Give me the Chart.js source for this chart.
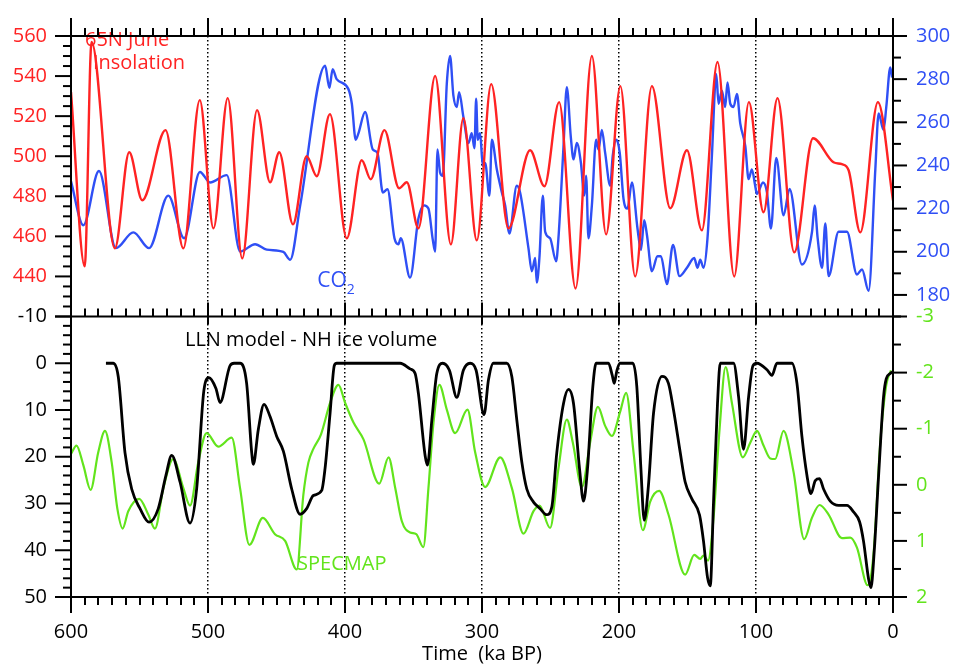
<!DOCTYPE html>
<html><head><meta charset="utf-8">
<script src="https://cdn.jsdelivr.net/npm/chart.js@4.4.1/dist/chart.umd.min.js"></script>
<style>html,body{margin:0;padding:0;background:#fff}#wrap{position:relative;width:955px;height:666px}</style>
</head><body><div id="wrap"><canvas id="c" width="955" height="666"></canvas></div>
<script>
// ---- data (time in ka BP) ----
const insT = [600,590,585,568,557.5,548,531,518,506,496,485.6,475,464.2,454.7,448,438,428,420.6,411,398.7,387.8,381.2,371.2,360.5,354.9,346.4,334.2,322.7,313.6,303.8,293.3,280.7,264.9,254.4,243.7,231.7,219.8,209.4,199,188.2,176,162.6,150.4,139.5,128.1,115.9,105.2,94.5,84.3,72.1,58.4,43.4,37.3,32.4,23.9,11,0];
const insV = [532,445,557,454,502,478,513,454,528,464,529,449,523,487,502,466,500,490,521,459,498,488.5,513,484,487,464,540,456,519,458,536,464,503,485,527,434,550,461,535,440,535,474,503,463,547,440,527,472,529,452,509,497,496,493,462,527,478];

const co2T = [600,591,579.6,567.2,554.5,543,529,517.4,505.9,498.5,486.3,476.6,465.6,457.1,445,440,432.7,414.5,411.4,409,406.1,397.6,395,392.2,390.2,385.3,379.7,376.3,372.4,369,363.9,361,359.3,352.5,346.4,342.3,339.1,335.9,334.2,332.5,330.6,328.6,325.7,323.3,320.9,318.4,316.7,313.6,309.9,307.5,305.5,304.3,303.1,301.4,299.4,297.7,294.6,292.8,289.2,285.5,283.1,280,274.6,272.2,266.1,263.6,261.2,260,258.1,255.6,253.9,250.3,245.9,244.2,240.5,238.1,235.2,233.2,230.8,227.8,225.4,224,222.3,219.8,216.7,215,212.5,210.1,206.4,204.6,202,199.5,196.7,193.8,190.6,186.5,184,181.6,179.6,176,171.9,169.4,165,160.6,155.8,150.4,145.1,142.7,140.7,138.3,135.4,132.2,129,127.3,124.9,122.5,120.8,118.8,116.4,113.9,111.5,107.8,105.4,103,100.6,99.3,94.9,92,89.1,85.2,79.9,75.5,66.5,59.1,57.2,55,51.8,49.4,47,39.7,33.6,26.3,22.6,17.8,12.9,10.5,6.9,4.9,2,0.7];
const co2V = [232.6,212.3,237.4,201.7,209,201.7,226,206.3,237,232.1,235.5,200.1,203.5,201,199.9,196.3,221.5,286.2,276,284.6,280,275.5,268.6,251.9,254.9,264.8,247.4,245.8,227.5,229,206.3,203.5,206.3,188,215.4,221.5,220,205.5,200.1,247.4,236.7,235.2,277.8,290.7,272.5,267.1,274,262.6,250.4,254.9,248,270.9,251.9,254.9,239.7,241.2,226,251.9,238.2,227.5,221.5,208.5,230.6,227.5,201.7,191,197.1,185.7,197.1,226,209.3,206.3,195.6,206.3,248.9,276.3,253.4,242.8,250.4,241.2,226,235.2,206.3,221.5,251.9,247.4,256.5,245.8,230.6,244.3,251.9,246,224.5,220,232.1,210.8,200.9,214.6,207.8,191,197.9,197.9,185,203.2,188.7,192.6,197.1,192.6,196.3,192.6,206.3,244.3,282.3,268.6,274.7,267.1,278.5,268.6,267.1,273.2,259.5,248.9,233.7,238.2,230.6,226.8,232.1,227.5,210.8,243.5,216.9,229.1,194.1,209.3,221.5,206.3,192.6,213.1,188.7,209.3,209.3,189.5,191.8,181.9,238.2,264.1,256.5,267.1,285.4,280.8];

const iceT = [574.5,569.2,565.5,560.6,555.7,549.6,543,536.3,530.7,526.5,520.4,513.1,508.3,503,499.3,494.2,491.2,483.9,481,476.6,471.8,468.1,466.9,463.3,459.1,454.7,449.9,445,438.9,432.8,428,423.1,417,414.6,410.9,407.8,406,359.7,352.5,348.8,346.4,341.5,339.8,336.6,333,328.7,323.8,318.4,313.6,308.7,304.3,298.5,295.3,291.7,281.9,278.2,274.6,270.9,267.3,262.4,257.6,252.7,249,245.4,240.5,236.9,233.2,228.8,225.9,223,219.1,216.7,207.7,205,203.5,201.5,199.2,189.9,187,184,181.6,178.5,174.8,168.7,163.9,160.2,155.3,151.7,146.8,141.2,138.3,135.4,133.4,131,128.1,126.1,116.4,112.7,109.1,105.4,102.2,99.3,92,88.4,84.7,73.8,70.1,66.5,62.8,59.9,56.7,53.6,50.7,45.8,39.7,33.6,28.8,24.4,21.5,17.8,16.1,13.7,10.5,6.9,4.9,2,0.5];
const iceV = [0,0,2.9,19.1,26.9,31.1,34,31.1,24,19.7,25.4,34.2,26.9,5.8,3.1,5.4,8.4,0.5,0,0,4.3,19.1,21.6,14.2,8.8,11.4,15.6,18.8,26.9,32.3,31.1,28.3,27.2,22.6,10.7,0.5,0,0,1.2,2.2,6.5,19.8,21.8,12.1,2.2,0,1.5,7.3,1.5,0,1.5,11,3.6,0,0,2.9,12.1,21.2,26.9,29.7,31.1,32.4,30.7,19.1,8.6,5.6,8.6,22.6,29.5,22.6,5,0,0,2.5,4.3,1.5,0,0,5,22.6,33.6,26.1,10.7,2.8,4.3,10,19.1,25.4,29,32.5,38.1,45.8,47.6,29.7,8.6,0,0,7.2,18.4,7.2,0.5,0,1.4,2.6,0,0,4.3,15.6,24,27.9,25.1,24.7,26.9,29.5,30.4,30.4,31.8,33.9,38.1,46.2,48,40.2,24,7.2,3.3,2.2,1.8];

const spmT = [600,596,591,585.7,580.1,575.2,570.3,566.2,562.3,558.2,550.2,543.6,538.7,532.6,525.3,518,513.1,507.1,501,492.5,482.7,476.6,469.8,460,451.1,443.7,435.2,430.4,426.7,423.1,417.5,410.9,404.8,399.9,393.8,386.5,375,368.2,363.3,358.5,352.4,348,342.8,339.1,335.4,331.1,325.7,319.6,310.6,305,297.7,286.7,278.2,269.7,262.4,258,250.3,244.2,238.1,233.7,227.1,221.1,215.4,210.1,205.2,199.2,194.8,189.4,182.6,177.2,170.7,163.9,151.7,145.1,140.7,138.3,135,131,126.6,122.2,117.6,109.6,104.2,99.3,94.5,89.6,86,79.9,72.6,64.8,59.2,53.6,47,37.3,31.2,26.3,18.5,14.2,9.3,4.9,1.5];
const spmV = [-0.55,-0.7,-0.35,0.09,-0.58,-0.96,-0.4,0.42,0.78,0.47,0.25,0.53,0.78,0.06,-0.46,0.06,0.37,-0.4,-0.92,-0.68,-0.84,0.06,1.07,0.59,0.88,1.0,1.51,0.18,-0.4,-0.64,-0.9,-1.46,-1.78,-1.46,-1.11,-0.81,-0.02,-0.49,0.06,0.65,0.85,0.88,1.11,0.06,-1.11,-1.78,-1.34,-0.92,-1.34,-0.58,0.04,-0.49,0.06,0.87,0.47,0.37,0.77,-0.29,-1.16,-0.75,0.04,-0.75,-1.39,-1.05,-0.87,-1.3,-1.64,-0.58,0.81,0.3,0.11,0.53,1.6,1.25,1.32,1.26,1.35,0.59,-0.99,-2.1,-1.46,-0.49,-0.75,-0.96,-0.7,-0.47,-0.46,-0.96,-0.23,0.97,0.59,0.36,0.53,0.95,0.94,1.12,1.79,1.23,-0.75,-1.78,-2.04];

const xTickStep = 100;
const insTicks = [440,460,480,500,520,540,560];
const co2Ticks = [180,200,220,240,260,280,300];
const iceTicks = [-10,0,10,20,30,40,50];
const spmTicks = [-3,-2,-1,0,1,2];

const RED = '#ff2323', BLUE = '#2f4ff5', GREEN = '#62e41c', BLACK = '#000';
const FONT = '"Open Sans", sans-serif';
const FS = 20;
const pts = (T, V) => T.map((t, i) => ({x: t, y: V[i]}));

const framePlugin = {
  id: 'frame',
  afterDraw(chart) {
    const {ctx, chartArea: a, scales: s} = chart;
    const mid = s.yIns.bottom;
    ctx.save();
    ctx.strokeStyle = '#000';
    ctx.lineWidth = 2;
    ctx.lineCap = 'butt';
    const L = (x1, y1, x2, y2) => { ctx.beginPath(); ctx.moveTo(x1, y1); ctx.lineTo(x2, y2); ctx.stroke(); };
    ctx.strokeRect(a.left, a.top, a.right - a.left, a.bottom - a.top);
    L(a.left, mid, a.right, mid);
    for (let t = 0; t <= 600; t += 10) {
      const px = Math.round(s.x.getPixelForValue(t));
      const major = t % 100 === 0;
      L(px, a.top, px, a.top - (major ? 18 : 8));
      if (major) L(px, mid - 14, px, mid + 8); else L(px, mid, px, mid - 8);
      L(px, a.bottom, px, a.bottom + (major ? 16 : 8));
    }
    for (let v = 420; v <= 560; v += 5) {
      const py = s.yIns.getPixelForValue(v);
      L(a.left, py, a.left - (v % 20 === 0 ? 16 : 8), py);
    }
    for (let v = -10; v <= 50; v += 2) {
      const py = s.yIce.getPixelForValue(v);
      L(a.left, py, a.left - (v % 10 === 0 ? 16 : 8), py);
    }
    for (let v = 170; v <= 300; v += 10) {
      const py = s.yCO2.getPixelForValue(v);
      L(a.right, py, a.right + (v % 20 === 0 ? 14 : 8), py);
    }
    for (let v = -3; v <= 2; v += 0.5) {
      const py = s.ySpm.getPixelForValue(v);
      L(a.right, py, a.right + (Number.isInteger(v) ? 14 : 8), py);
    }
    ctx.restore();
  }
};

const textPlugin = {
  id: 'labels',
  afterDatasetsDraw(chart) {
    const {ctx, scales: s} = chart;
    ctx.save();
    ctx.textBaseline = 'middle';
    ctx.textAlign = 'left';
    const T = (txt, t, yScale, v, color, size) => {
      ctx.fillStyle = color;
      ctx.font = size + 'px ' + FONT;
      ctx.fillText(txt, s.x.getPixelForValue(t), yScale.getPixelForValue(v));
    };
    T('65N June', 589.8, s.yIns, 558, RED, FS);
    T('Insolation', 584, s.yIns, 546.5, RED, FS);
    T('CO', 420.3, s.yCO2, 186.5, BLUE, 21);
    ctx.font = '21px ' + FONT;
    const coW = ctx.measureText('CO').width;
    ctx.font = '14px ' + FONT;
    ctx.fillStyle = BLUE;
    ctx.fillText('2', s.x.getPixelForValue(420.3) + coW, s.yCO2.getPixelForValue(186.5) + 9);
    T('LLN model - NH ice volume', 516.8, s.yIce, -5, BLACK, FS);
    T('SPECMAP', 435, s.ySpm, 1.42, GREEN, FS);
    ctx.restore();
  }
};

const tickFont = {family: FONT, size: FS};
const yCommon = (color, pad) => ({
  grid: {display: false, drawTicks: false},
  border: {display: false},
  ticks: {color: color, font: tickFont, padding: pad, autoSkip: false}
});

new Chart(document.getElementById('c'), {
  type: 'line',
  data: {
    datasets: [
      {data: pts(insT, insV), yAxisID: 'yIns', borderColor: RED, borderWidth: 2.4},
      {data: pts(co2T, co2V), yAxisID: 'yCO2', borderColor: BLUE, borderWidth: 2.4},
      {data: pts(iceT, iceV), yAxisID: 'yIce', borderColor: BLACK, borderWidth: 2.8},
      {data: pts(spmT, spmV), yAxisID: 'ySpm', borderColor: GREEN, borderWidth: 2.2}
    ].map(d => Object.assign({xAxisID: 'x', pointRadius: 0, fill: false, cubicInterpolationMode: 'monotone'}, d))
  },
  options: {
    responsive: false, animation: false, events: [],
    layout: {padding: {top: 28, left: 0, right: 0, bottom: 0}},
    plugins: {legend: {display: false}, tooltip: {enabled: false}},
    scales: {
      x: {
        type: 'linear', position: 'bottom', min: 0, max: 600, reverse: true,
        afterFit: sc => { sc.height = 69; },
        ticks: {stepSize: xTickStep, color: '#000', font: tickFont, padding: 23, maxRotation: 0, autoSkip: false},
        grid: {drawTicks: false, lineWidth: 1.5,
               color: c => (c.tick && (c.tick.value === 0 || c.tick.value === 600)) ? 'rgba(0,0,0,0)' : '#000'},
        border: {display: false, dash: [1.5, 2.5]},
        title: {display: true, text: 'Time  (ka BP)', color: '#000', font: {family: FONT, size: FS}, padding: {top: 0, bottom: 0}}
      },
      yIce: Object.assign(yCommon(BLACK, 24), {
        type: 'linear', position: 'left', stack: 'L', stackWeight: 1, min: -10, max: 50, reverse: true,
        afterFit: sc => { sc.width = 71; },
        afterBuildTicks: sc => { sc.ticks = iceTicks.map(v => ({value: v})); }
      }),
      yIns: Object.assign(yCommon(RED, 24), {
        type: 'linear', position: 'left', stack: 'L', stackWeight: 1, min: 420, max: 560,
        afterFit: sc => { sc.width = 71; },
        afterBuildTicks: sc => { sc.ticks = insTicks.map(v => ({value: v})); }
      }),
      yCO2: Object.assign(yCommon(BLUE, 23), {
        type: 'linear', position: 'right', stack: 'R', stackWeight: 1, min: 170, max: 300,
        afterFit: sc => { sc.width = 62; },
        afterBuildTicks: sc => { sc.ticks = co2Ticks.map(v => ({value: v})); }
      }),
      ySpm: Object.assign(yCommon(GREEN, 23), {
        type: 'linear', position: 'right', stack: 'R', stackWeight: 1, min: -3, max: 2, reverse: true,
        afterFit: sc => { sc.width = 62; },
        afterBuildTicks: sc => { sc.ticks = spmTicks.map(v => ({value: v})); }
      })
    }
  },
  plugins: [framePlugin, textPlugin]
});
</script>
</body></html>
